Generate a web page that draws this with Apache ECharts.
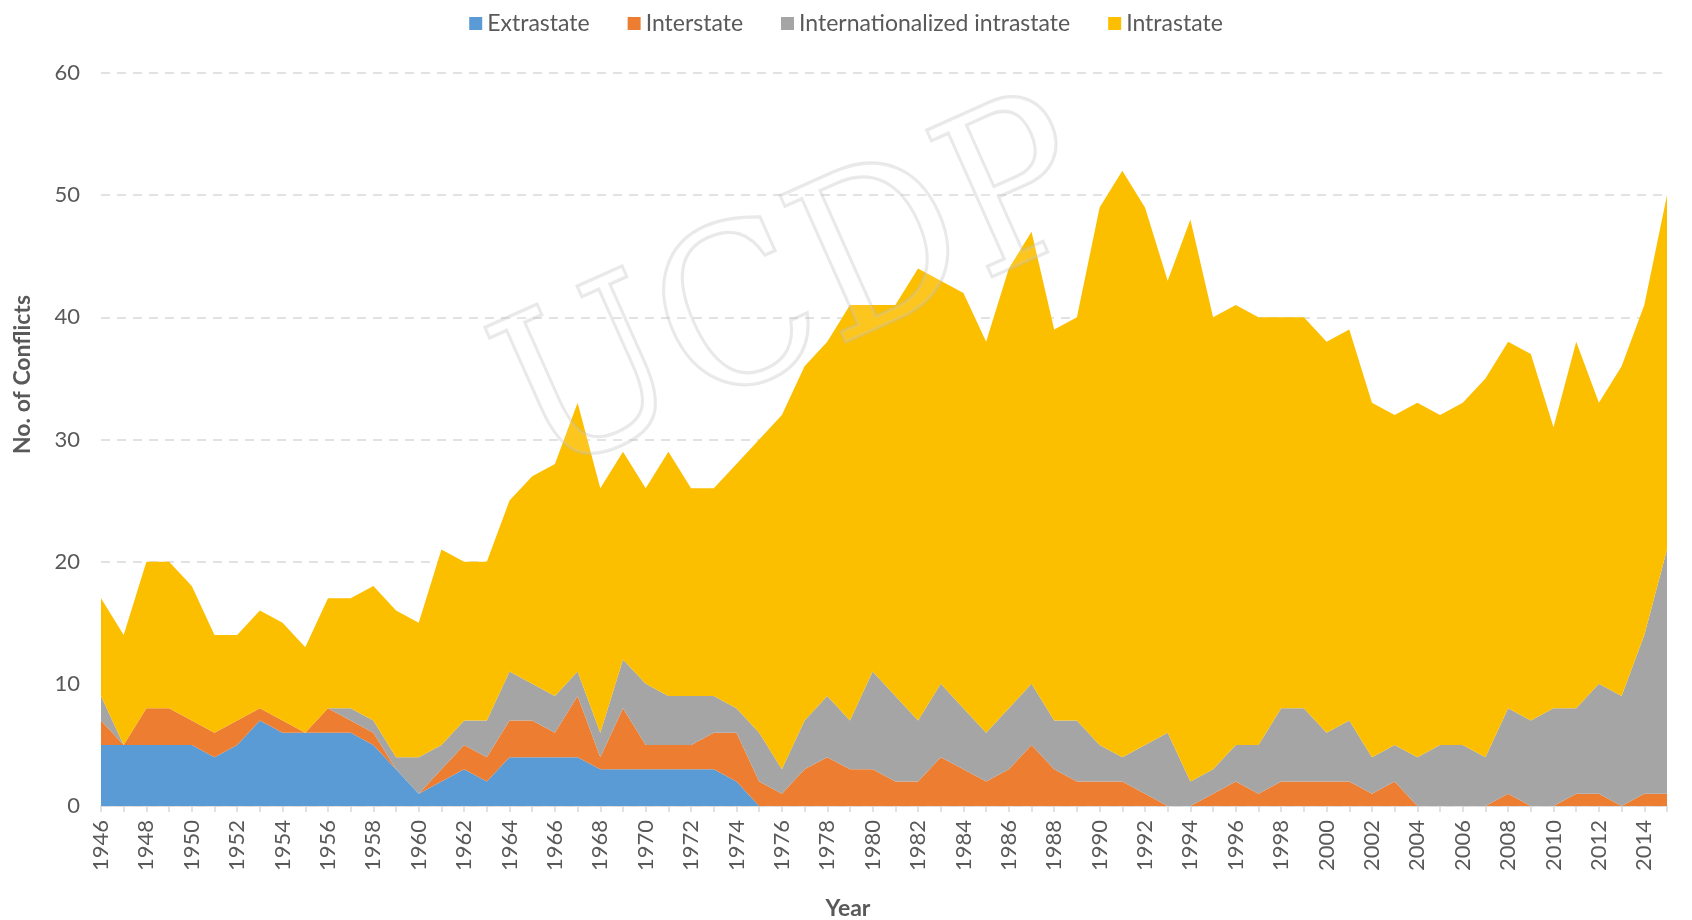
<!DOCTYPE html>
<html>
<head>
<meta charset="utf-8">
<title>Conflicts by type, 1946-2015</title>
<script src="https://cdn.jsdelivr.net/npm/echarts@6/dist/echarts.min.js"></script>
<style>
  html, body { margin: 0; padding: 0; background: #fff; }
  #chart { width: 1692px; height: 920px; }
</style>
</head>
<body>
<div id="chart"></div>
<script>
const years = [];
for (let y = 1946; y <= 2015; y++) years.push(String(y));

const extrastate = [
  5, 5, 5, 5, 5, 4, 5, 7, 6, 6, 6, 6, 5, 3, 1, 2, 3, 2,
  4, 4, 4, 4, 3, 3, 3, 3, 3, 3, 2,
  0, 0, 0, 0, 0, 0, 0, 0, 0, 0, 0, 0, 0, 0, 0, 0, 0, 0, 0, 0,
  0, 0, 0, 0, 0, 0, 0, 0, 0, 0, 0, 0, 0, 0, 0, 0, 0, 0, 0, 0, 0, 0
];
const interstate = [
  2, 0, 3, 3, 2, 2, 2, 1, 1, 0, 2, 1, 1, 0, 0, 1, 2, 2,
  3, 3, 2, 5, 1, 5, 2, 2, 2, 3, 4,
  2, 1, 3, 4, 3, 3, 2, 2, 4, 3, 2, 3, 5, 3, 2, 2, 2, 1, 0, 0,
  1, 2, 1, 2, 2, 2, 2, 1, 2, 0, 0, 0, 0, 1, 0, 0, 1, 1, 0, 1, 1
];
const internationalized = [
  2, 0, 0, 0, 0, 0, 0, 0, 0, 0, 0, 1, 1, 1, 3, 2, 2, 3,
  4, 3, 3, 2, 2, 4, 5, 4, 4, 3, 2,
  4, 2, 4, 5, 4, 8, 7, 5, 6, 5, 4, 5, 5, 4, 5, 3, 2, 4, 6, 2,
  2, 3, 4, 6, 6, 4, 5, 3, 3, 4, 5, 5, 4, 7, 7, 8, 7, 9, 9, 13, 20
];
const intrastate = [
  8, 9, 12, 12, 11, 8, 7, 8, 8, 7, 9, 9, 11, 12, 11, 16, 13, 13,
  14, 17, 19, 22, 20, 17, 16, 20, 17, 17, 20,
  24, 29, 29, 29, 34, 30, 32, 37, 33, 34, 32, 36, 37, 32, 33, 44, 48, 44, 37, 46,
  37, 36, 35, 32, 32, 32, 32, 29, 27, 29, 27, 28, 31, 30, 30, 23, 30, 23, 27, 27, 29
];

const seriesNames = ["Extrastate", "Interstate", "Internationalized intrastate", "Intrastate"];
const seriesColors = ["#5b9bd5", "#ed7d31", "#a5a5a5", "#fcbf00"];
const seriesData = [extrastate, interstate, internationalized, intrastate];

const font = "Lato, 'Open Sans', sans-serif";
const chart = echarts.init(document.getElementById("chart"), null, { renderer: "canvas" });

chart.setOption({
  animation: false,
  backgroundColor: "#fff",
  color: seriesColors,
  legend: {
    top: 7,
    left: "center",
    icon: "rect",
    itemWidth: 13,
    itemHeight: 13,
    itemGap: 38,
    textStyle: { fontFamily: font, fontSize: 23, color: "#595959" },
    data: seriesNames
  },
  grid: { left: 101, right: 25, top: 73, bottom: 114 },
  xAxis: {
    type: "category",
    data: years,
    boundaryGap: false,
    axisLine: { lineStyle: { color: "#d9d9d9", width: 1.5 } },
    axisTick: { interval: 0, length: 6, lineStyle: { color: "#d9d9d9", width: 1.5 } },
    axisLabel: {
      interval: 1,
      rotate: 90,
      margin: 14,
      fontFamily: font,
      fontSize: 22,
      color: "#595959"
    }
  },
  yAxis: {
    type: "value",
    min: 0,
    max: 60,
    interval: 10,
    axisLine: { show: false },
    axisTick: { show: false },
    axisLabel: { fontFamily: font, fontSize: 22, color: "#595959", margin: 21 },
    splitLine: { lineStyle: { color: "#d9d9d9", type: [9, 7], width: 1.5 } }
  },
  series: seriesNames.map((name, i) => ({
    name: name,
    type: "line",
    stack: "total",
    data: seriesData[i],
    symbol: "none",
    lineStyle: { width: 0 },
    areaStyle: { color: seriesColors[i], opacity: 1 },
    itemStyle: { color: seriesColors[i] }
  })),
  graphic: [
    {
      type: "text",
      x: 11,
      y: 454,
      rotation: Math.PI / 2,
      style: {
        text: "No. of Conflicts",
        font: "bold 23px " + font,
        fill: "#595959",
        align: "left",
        verticalAlign: "top"
      }
    },
    {
      type: "text",
      x: 848,
      y: 909,
      style: {
        text: "Year",
        font: "bold 23px " + font,
        fill: "#595959",
        align: "center",
        verticalAlign: "middle"
      }
    },
    {
      type: "text",
      x: 800,
      y: 300,
      rotation: 0.42,
      scaleY: 1.1,
      z: 100,
      style: {
        text: "UCDP",
        font: "200px 'DejaVu Serif', serif",
        fill: "rgba(255,255,255,0.12)",
        stroke: "rgba(190,190,190,0.35)",
        lineWidth: 3,
        align: "center",
        verticalAlign: "middle"
      }
    }
  ]
});
</script>
</body>
</html>
